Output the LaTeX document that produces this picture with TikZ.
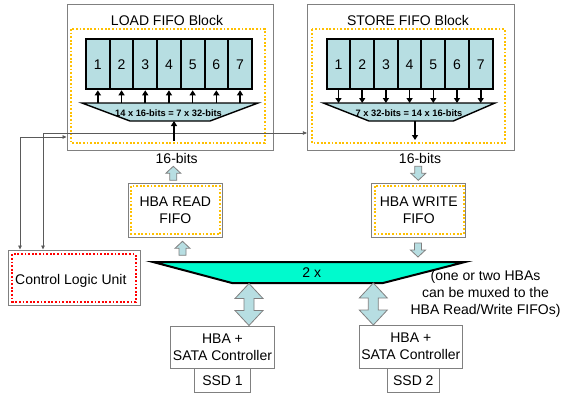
\documentclass[tikz,border=0pt]{standalone}
\usepackage{fontspec}
\setmainfont{Liberation Sans}
\usetikzlibrary{arrows.meta,calc}
\definecolor{colfill}{RGB}{183,222,226}
\definecolor{muxfill}{RGB}{0,250,205}
\definecolor{boxgray}{RGB}{128,128,128}
\definecolor{orng}{RGB}{255,192,0}
\definecolor{linegray}{RGB}{90,90,90}
\begin{document}
\begin{tikzpicture}[x=1pt,y=-1pt,
  font=\fontsize{14}{17}\selectfont,
  graybox/.style={draw=boxgray,line width=0.9pt,fill=white,inner sep=0pt},
  orgdot/.style={draw=orng,line width=1.8pt,dash pattern=on 1.8pt off 1.8pt},
  reddot/.style={draw=red,line width=1.8pt,dash pattern=on 1.8pt off 1.8pt},
  colbox/.style={draw=black,line width=2pt,fill=colfill,minimum width=23.7pt,minimum height=50pt,inner sep=0pt},
  trap/.style={draw=black,line width=1.4pt,fill=colfill},
  blk/.style={-{Triangle[length=5pt,width=6pt]},line width=1.6pt,black},
  ctl/.style={{Triangle[length=4pt,width=3.5pt]}-{Triangle[length=4pt,width=3.5pt]},line width=0.8pt,draw=linegray},
  barrow/.style={draw=boxgray,line width=0.8pt,fill=colfill},
  txt/.style={inner sep=0pt},
  blab/.style={font=\fontsize{9.3}{11}\selectfont\bfseries,inner sep=0pt},
  pics/upa/.style={code={\draw[barrow] (0,-7) -- (7.5,0) -- (3.5,0) -- (3.5,7) -- (-3.5,7) -- (-3.5,0) -- (-7.5,0) -- cycle;}},
  pics/dna/.style={code={\draw[barrow] (0,7) -- (7.5,0) -- (3.5,0) -- (3.5,-7) -- (-3.5,-7) -- (-3.5,0) -- (-7.5,0) -- cycle;}},
  pics/dbl/.style={code={\draw[barrow] (0,-21) -- (14,-6) -- (5,-6) -- (5,6) -- (14,6) -- (0,21) -- (-14,6) -- (-5,6) -- (-5,-6) -- (-14,-6) -- cycle;}},
]
\useasboundingbox (0,0) rectangle (561,405);
\fill[white] (0,0) rectangle (561,405);

% LOAD FIFO block
\node[graybox,minimum width=206pt,minimum height=145.7pt] (load) at (170,77.2) {};
\node[txt] (loadt) at (167,20) {LOAD FIFO Block};
\draw[orgdot] (70.7,29) rectangle (264.7,142.7);
\foreach \i in {1,...,7}
  \node[colbox] (lc\i) at ({97.85+(\i-1)*23.7},64.3) {\i};
\draw[trap] (82,103) coordinate (lt1) -- (258,103) coordinate (lt2) -- (210,121) coordinate (lt3) -- (130,121) coordinate (lt4) -- cycle;
\node[blab] (ltrapl) at (168.5,113) {14 x 16-bits = 7 x 32-bits};

% STORE FIFO block
\node[graybox,minimum width=206.7pt,minimum height=145.7pt] (store) at (410.7,77.2) {};
\node[txt] (storet) at (408,20) {STORE FIFO Block};
\draw[orgdot] (311.7,29.3) rectangle (505,142.7);
\foreach \i in {1,...,7}
  \node[colbox] (sc\i) at ({338.5+(\i-1)*23.7},64.3) {\i};
\draw[trap] (323.3,103) coordinate (st1) -- (495,103) coordinate (st2) -- (453.3,121) coordinate (st3) -- (369,121) coordinate (st4) -- cycle;
\node[blab] (strapl) at (409,113) {7 x 32-bits = 14 x 16-bits};

% Control logic unit
\node[graybox,minimum width=131.7pt,minimum height=55.7pt] (ctrl) at (74.2,277.8) {};
\draw[reddot] (12.3,254.3) rectangle (135.7,301.7);
\node[txt] (ctrlt) at (70.8,281) {Control Logic Unit};

% control connections
\draw[ctl] (load.west |- 0,137) -| (ctrl.north -| 20,0);
\draw[ctl] (store.west |- 0,133) -| (ctrl.north -| 43,0);

% internal arrows
\foreach \i in {1,...,7}
  \draw[blk] (lc\i.south |- lt1) -- (lc\i.south);
\foreach \i in {1,...,7}
  \draw[blk] (sc\i.south) -- (sc\i.south |- st1);
\coordinate (lin) at (174,141);
\draw[blk] (lin) -- (lin |- lt4);
\coordinate (sout) at (415,140);
\draw[blk] (sout |- st4) -- (sout);

% 16-bit labels
\node[txt] (l16) at (176.7,158.3) {16-bits};
\node[txt] (s16) at (420,158.3) {16-bits};

% HBA FIFOs
\node[graybox,minimum width=94pt,minimum height=54pt] (rfifo) at (175.3,210.3) {};
\draw[orgdot] ($(rfifo.north west)+(3.4,3.4)$) rectangle ($(rfifo.south east)+(-2.4,-4)$);
\node[txt,align=center] (rfifot) at (rfifo) {HBA READ\\FIFO};
\node[graybox,minimum width=94pt,minimum height=54pt] (wfifo) at (418.7,210.3) {};
\draw[orgdot] ($(wfifo.north west)+(3.4,3.4)$) rectangle ($(wfifo.south east)+(-2.4,-4)$);
\node[txt,align=center] (wfifot) at (wfifo) {HBA WRITE\\FIFO};

% block arrows
\pic at (173.3,173.3) {upa};
\pic at (182.5,248.3) {upa};
\pic at (418.3,173.3) {dna};
\pic at (418,250) {dna};

% mux
\draw[line width=2pt,fill=muxfill] (153,262) coordinate (m1) -- (465,262) coordinate (m2) -- (383,283) coordinate (m3) -- (232,283) coordinate (m4) -- cycle;
\node[txt] (mux) at (311.7,272.3) {2 x};
\node[txt,align=center] (note) at (485.5,293.8) {(one or two HBAs\\can be muxed to the\\HBA Read/Write FIFOs)};

% double arrows
\pic at (249,304.5) {dbl};
\pic at (373.3,304) {dbl};

% HBA + SATA controllers and SSDs
\node[graybox,minimum width=103.6pt,minimum height=42.3pt,align=center] (hba1) at (222.5,347.2) {HBA +\\SATA Controller};
\node[graybox,minimum width=56.4pt,minimum height=24pt] (ssd1) at (222.5,380.3) {SSD 1};
\node[graybox,minimum width=103pt,minimum height=43.3pt,align=center] (hba2) at (410.8,346.7) {HBA +\\SATA Controller};
\node[graybox,minimum width=52pt,minimum height=24pt] (ssd2) at (413.3,380.3) {SSD 2};
\end{tikzpicture}
\end{document}
